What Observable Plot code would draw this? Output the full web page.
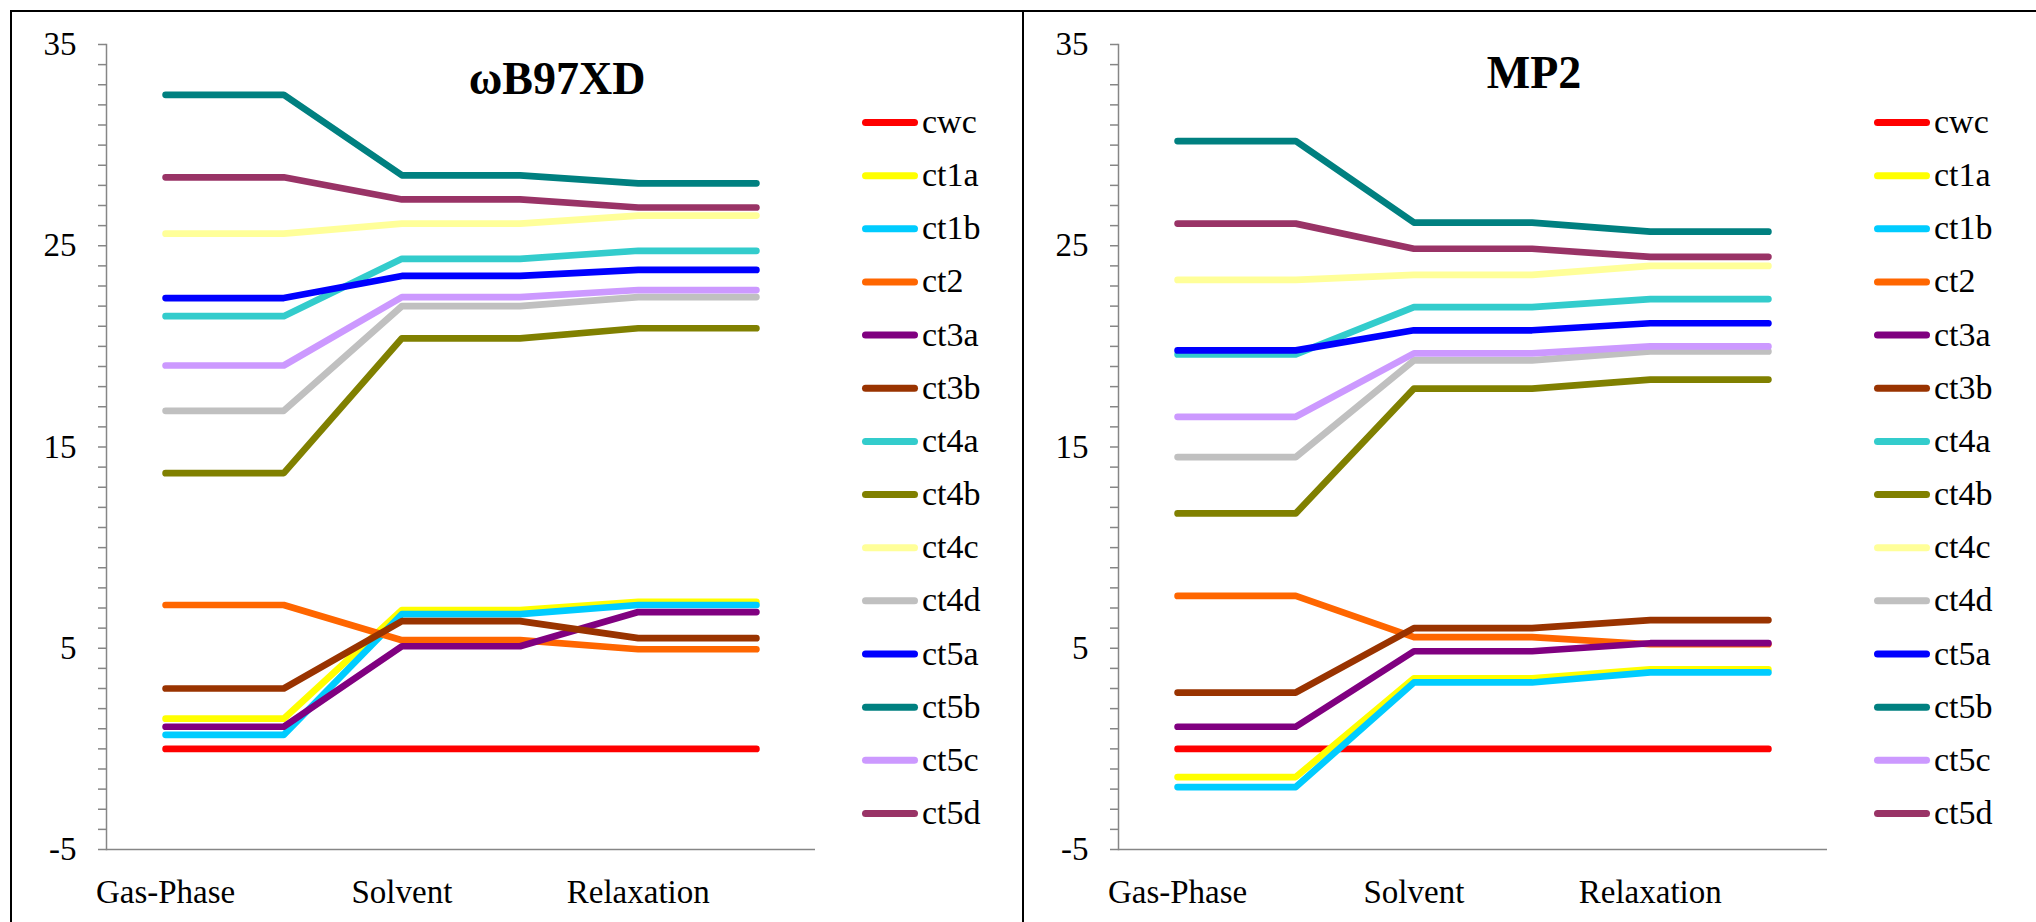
<!DOCTYPE html>
<html><head><meta charset="utf-8">
<script src="https://cdn.jsdelivr.net/npm/d3@7"></script>
<script src="https://cdn.jsdelivr.net/npm/@observablehq/plot@0.6"></script>
<style>
html,body{margin:0;padding:0;background:#fff;}
#page{position:relative;width:2036px;height:922px;overflow:hidden;background:#fff;}
.rule{position:absolute;background:#000;}
.panel{position:absolute;top:12px;width:1010px;height:910px;}
.panel svg{position:absolute;left:0;top:0;}
</style></head><body><div id="page"></div>
<script>
const stages = ["Gas-Phase", "Solvent", "Relaxation"];
const series = ["cwc","ct1a","ct1b","ct2","ct3a","ct3b","ct4a","ct4b","ct4c","ct4d","ct5a","ct5b","ct5c","ct5d"];
const seriesColors = ["#FF0000","#FFFF00","#00CCFF","#FF6600","#800080","#993300","#33CCCC","#808000","#FFFF99","#C0C0C0","#0000FF","#008080","#CC99FF","#993366"];
const wb97xdGas     = [0, 1.5, 0.7, 7.15, 1.1, 3.0, 21.5, 13.7, 25.6, 16.8, 22.4, 32.5, 19.05, 28.4];
const wb97xdSolvent = [0, 6.9, 6.7, 5.4, 5.1, 6.35, 24.35, 20.4, 26.1, 22.0, 23.5, 28.5, 22.45, 27.3];
const wb97xdRelax   = [0, 7.3, 7.15, 4.95, 6.8, 5.5, 24.75, 20.9, 26.5, 22.45, 23.8, 28.1, 22.8, 26.9];
const mp2Gas     = [0, -1.4, -1.9, 7.6, 1.1, 2.8, 19.6, 11.7, 23.3, 14.5, 19.8, 30.2, 16.5, 26.1];
const mp2Solvent = [0, 3.5, 3.3, 5.55, 4.85, 6.0, 21.95, 17.9, 23.55, 19.3, 20.8, 26.15, 19.65, 24.85];
const mp2Relax   = [0, 3.95, 3.8, 5.2, 5.25, 6.4, 22.35, 18.35, 24.0, 19.75, 21.15, 25.7, 20.0, 24.45];
const yTicks = [-5, 5, 15, 25, 35];
const titles = ["ωB97XD", "MP2"];

const FONT = "'Liberation Serif', 'Times New Roman', serif";
const AXIS = "#868686";

const page = document.getElementById("page");
function rule(l, t, w, h) {
  const d = document.createElement("div");
  d.className = "rule";
  Object.assign(d.style, {left: l + "px", top: t + "px", width: w + "px", height: h + "px"});
  page.appendChild(d);
}

const panels = [
  {title: titles[0], values: [wb97xdGas, wb97xdSolvent, wb97xdRelax], left: 12, titleX: 545, titleY: 82},
  {title: titles[1], values: [mp2Gas, mp2Solvent, mp2Relax], left: 1024, titleX: 510, titleY: 76}
];

for (const p of panels) {
  // each stage is drawn as a flat segment spanning two category slots
  const data = [];
  series.forEach((s, j) => {
    for (let slot = 0; slot < 6; slot++) {
      data.push({series: s, slot, value: p.values[Math.floor(slot / 2)][j]});
    }
  });

  const chart = Plot.plot({
    width: 1010, height: 910,
    marginLeft: 94, marginRight: 207, marginTop: 32, marginBottom: 73,
    style: {fontFamily: FONT, background: "transparent", color: "black"},
    x: {domain: [-0.5, 5.5], label: null},
    y: {domain: [-5, 35], label: null},
    color: {domain: series, range: seriesColors},
    marks: [
      Plot.axisY({ticks: d3.range(-5, 36), tickSize: 8, text: null, label: null, stroke: AXIS, strokeWidth: 1.5}),
      Plot.axisY({ticks: yTicks, tickSize: 0, tickPadding: 30, fontSize: 33, label: null, tickFormat: d => String(d)}),
      Plot.axisX({ticks: [0, 2, 4], tickSize: 0, tickPadding: 30, fontSize: 33, label: null, tickFormat: i => stages[i / 2]}),
      Plot.ruleY([-5], {stroke: AXIS, strokeWidth: 1.5}),
      Plot.frame({anchor: "left", stroke: AXIS, strokeWidth: 1.5}),
      Plot.line(data, {x: "slot", y: "value", z: "series", stroke: "series",
        strokeWidth: 6.7, strokeLinejoin: "round", strokeLinecap: "round"})
    ]
  });

  const holder = document.createElement("div");
  holder.className = "panel";
  holder.style.left = p.left + "px";
  holder.appendChild(chart);
  page.appendChild(holder);

  const svg = d3.select(chart);
  svg.append("text")
    .attr("x", p.titleX).attr("y", p.titleY)
    .attr("text-anchor", "middle")
    .attr("font-family", FONT).attr("font-weight", "bold").attr("font-size", 46)
    .attr("fill", "black")
    .text(p.title);

  const lg = svg.append("g").attr("font-family", FONT).attr("font-size", 34).attr("text-anchor", "start");
  series.forEach((s, i) => {
    const yy = 110.5 + i * 53.15;
    lg.append("line").attr("x1", 853.5).attr("x2", 902.5).attr("y1", yy).attr("y2", yy)
      .attr("stroke", seriesColors[i]).attr("stroke-width", 7).attr("stroke-linecap", "round");
    lg.append("text").attr("x", 910).attr("y", yy + 10.5).attr("fill", "black").text(s);
  });
}

rule(10, 10, 2026, 2);
rule(10, 10, 2, 912);
rule(1022, 10, 2, 912);
</script></body></html>
